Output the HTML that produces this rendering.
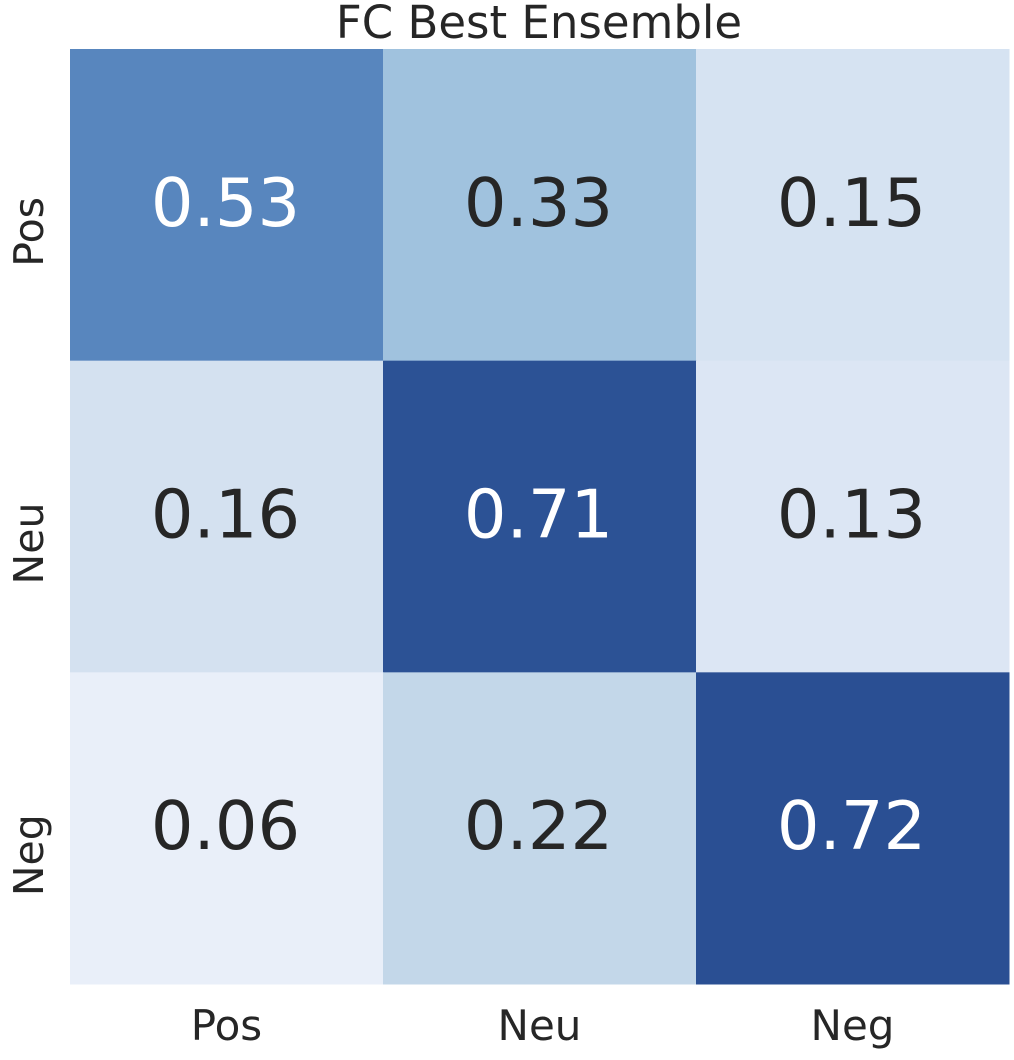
<!DOCTYPE html>
<html><head><meta charset="utf-8"><style>
html,body{margin:0;padding:0;background:#fff;}
svg{display:block;font-family:"DejaVu Sans","Liberation Sans",sans-serif;}
</style></head><body>
<svg id="chart" width="1014" height="1060">
<text x="539" y="38" font-size="45" fill="#262626" text-anchor="middle">FC Best Ensemble</text>
<g id="cells"></g><g id="xt"></g><g id="yt"></g>
</svg>
<script>
const rowLabels = ["Pos","Neu","Neg"];
const colLabels = ["Pos","Neu","Neg"];
const values = [[0.53,0.33,0.15],[0.16,0.71,0.13],[0.06,0.22,0.72]];
const L=70,T=49,W=939,H=935;
const cw=W/colLabels.length, ch=H/rowLabels.length;
const xs=i=>L+i*cw, ys=i=>T+i*ch;
const stops=[[0.06,[233,239,249]],[0.13,[220,230,244]],[0.22,[195,215,233]],[0.33,[160,194,222]],[0.53,[88,134,190]],[0.72,[42,79,147]]];
function color(v){
  if(v<=stops[0][0])return stops[0][1];
  for(let i=1;i<stops.length;i++){if(v<=stops[i][0]){const a=stops[i-1],b=stops[i],t=(v-a[0])/(b[0]-a[0]);return a[1].map((c,k)=>Math.round(c+(b[1][k]-c)*t));}}
  return stops[stops.length-1][1];
}
const NS="http://www.w3.org/2000/svg";
const cells=document.getElementById('cells');
values.forEach((row,r)=>row.forEach((v,c)=>{
  const rect=document.createElementNS(NS,'rect');
  rect.setAttribute('x',xs(c));rect.setAttribute('y',ys(r));
  rect.setAttribute('width',cw+0.5);rect.setAttribute('height',ch+0.5);
  const col=color(v);rect.setAttribute('fill','rgb('+col.join(',')+')');
  
  
  cells.appendChild(rect);
  const t=document.createElementNS(NS,'text');
  t.setAttribute('x',xs(c)+cw/2-1);t.setAttribute('y',ys(r)+ch/2+21);
  t.setAttribute('text-anchor','middle');t.setAttribute('font-size','67');
  t.setAttribute('fill',v>0.45?'#ffffff':'#262626');
  t.textContent=v.toFixed(2);
  
  
  cells.appendChild(t);
}));
const xt=document.getElementById('xt');
colLabels.forEach((l,i)=>{
  const t=document.createElementNS(NS,'text');
  t.setAttribute('x',xs(i)+cw/2);t.setAttribute('y',1040);
  t.setAttribute('text-anchor','middle');t.setAttribute('font-size','42');t.setAttribute('fill','#262626');
  t.textContent=l;
  
  
  xt.appendChild(t);
});
const yt=document.getElementById('yt');
rowLabels.forEach((l,i)=>{
  const t=document.createElementNS(NS,'text');
  const cy=ys(i)+ch/2+27;
  t.setAttribute('transform','translate(43,'+cy+') rotate(-90)');
  t.setAttribute('text-anchor','middle');t.setAttribute('font-size','41');t.setAttribute('fill','#262626');
  t.textContent=l;
  
  
  yt.appendChild(t);
});
</script>
</body></html>
